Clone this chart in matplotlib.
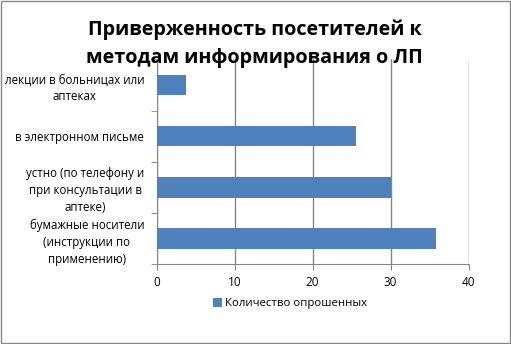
import matplotlib.pyplot as plt
from matplotlib.patches import Rectangle

categories = ['бумажные носители\n(инструкции по\nприменению)',
              'устно (по телефону и\nпри консультации в\nаптеке)',
              'в электронном письме',
              'лекции в больницах или\nаптеках']
values = [35.8, 30.0, 25.6, 3.8]
series_name = 'Количество опрошенных'
title_lines = ['Приверженность посетителей к', 'методам информирования о ЛП']
xticks = [0, 10, 20, 30, 40]

plt.rcParams['font.family'] = ['Open Sans', 'DejaVu Sans']

fig = plt.figure(figsize=(5.11, 3.44), dpi=100)
ax = fig.add_axes([0.3066, 0.2317, 0.6106, 0.5959])

pos = list(range(len(categories)))
ax.barh(pos, values, height=0.4, color='#4F81BD', label=series_name, zorder=3)

ax.set_xlim(0, 40)
ax.set_ylim(-0.5, len(categories) - 0.5)
ax.set_xticks(xticks)
ax.set_xticklabels([str(t) for t in xticks], fontsize=8.5)
ax.set_yticks(pos, categories, fontsize=8.3, multialignment='center', linespacing=1.4)
ax.set_yticks([p - 0.5 for p in pos] + [len(categories) - 0.5], minor=True)

ax.tick_params(axis='y', which='major', length=0, pad=9)
ax.tick_params(axis='y', which='minor', length=4, color='#868686', direction='out')
ax.tick_params(axis='x', length=4, color='#868686', pad=4.5)

ax.grid(axis='x', color='#868686', linewidth=1, zorder=0)
for s in ['top', 'right']:
    ax.spines[s].set_visible(False)
for s in ['left', 'bottom']:
    ax.spines[s].set_color('#868686')

fig.text(0.498, 0.8983, title_lines[0], ha='center', va='baseline',
         fontsize=14.2, fontweight='bold')
fig.text(0.498, 0.8177, title_lines[1], ha='center', va='baseline',
         fontsize=14.2, fontweight='bold')

ax.legend(loc='center', bbox_to_anchor=(0.568, 0.117), bbox_transform=fig.transFigure,
          frameon=False, fontsize=8.2, handlelength=0.78, handleheight=0.78, handletextpad=0.25)

fig.patches.append(Rectangle((0.001, 0.004), 0.997, 0.994, transform=fig.transFigure,
                             fill=False, edgecolor='#868686', linewidth=1))

fig.savefig('out.png', dpi=100)
